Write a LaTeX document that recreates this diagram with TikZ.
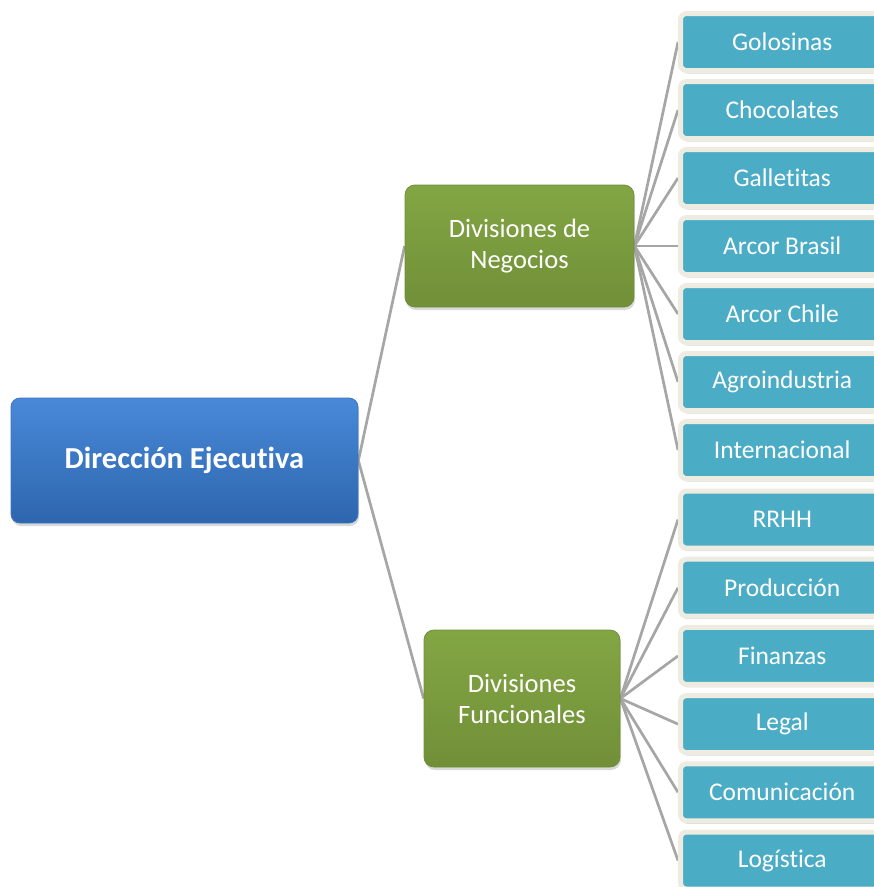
\documentclass[tikz,border=0pt]{standalone}
\usepackage{fontspec}
\setmainfont[Ligatures=NoCommon]{Carlito}
\usetikzlibrary{shadows}
\definecolor{leafteal}{HTML}{4BACC6}
\definecolor{leafedge}{HTML}{EEECE1}
\definecolor{linegray}{HTML}{A6A6A6}
\definecolor{bluetop}{HTML}{4889D8}
\definecolor{bluebot}{HTML}{2E66AE}
\definecolor{blueedge}{HTML}{3B75C2}
\definecolor{greentop}{HTML}{83A644}
\definecolor{greenbot}{HTML}{718F38}
\definecolor{greenedge}{HTML}{708F38}
\pgfdeclarelayer{bg}
\pgfsetlayers{bg,main}
\tikzset{
  rootbox/.style={rounded corners=9pt, top color=bluetop, bottom color=bluebot,
    draw=blueedge, line width=0.8pt, minimum width=347pt, minimum height=125pt,
    inner sep=0pt, text=white, font=\fontsize{30.5}{36}\selectfont\bfseries,
    drop shadow={shadow xshift=1pt, shadow yshift=-3pt, opacity=0.3}},
  midbox/.style={rounded corners=10pt, top color=greentop, bottom color=greenbot,
    draw=greenedge, line width=0.8pt, inner sep=0pt, text=white, align=center,
    font=\fontsize{26.5}{31}\selectfont,
    drop shadow={shadow xshift=1pt, shadow yshift=-3pt, opacity=0.3}},
  leafbox/.style={rounded corners=6pt, fill=leafteal, draw=leafedge, line width=5pt,
    minimum width=203.5pt, minimum height=57pt, inner sep=0pt, text=white,
    font=\fontsize{25.5}{30}\selectfont,
    drop shadow={shadow xshift=1pt, shadow yshift=-3pt, opacity=0.3}},
  conn/.style={draw=linegray, line width=2.7pt}
}
\begin{document}
\begin{tikzpicture}[x=1pt,y=-1pt]
\useasboundingbox (0,0) rectangle (874,887);
\node[rootbox] (root) at (184.5,460.5) {Dirección Ejecutiva};
\node[midbox, minimum width=229pt, minimum height=122pt] (neg) at (519.5,246) {Divisiones de\\Negocios};
\node[midbox, minimum width=196pt, minimum height=137pt] (fun) at (522,698.5) {Divisiones\\Funcionales};
% top leaves
\foreach \t [count=\i from 0] in {Golosinas,Chocolates,Galletitas,Arcor Brasil,Arcor Chile,Agroindustria,Internacional}{
  \node[leafbox] (t\i) at (782.25,{42+68*\i}) {\t};
}
% bottom leaves
\foreach \t [count=\i from 0] in {RRHH,Producción,Finanzas,Legal,Comunicación,Logística}{
  \node[leafbox] (b\i) at (782.25,{519.5+68.2*\i}) {\t};
}
\begin{pgfonlayer}{bg}
\draw[conn] (root.east) -- (neg.west);
\draw[conn] (root.east) -- (fun.west);
\foreach \i in {0,...,6}{ \draw[conn] (neg.east) -- (t\i.west); }
\foreach \i in {0,...,5}{ \draw[conn] (fun.east) -- (b\i.west); }
\end{pgfonlayer}
\end{tikzpicture}
\end{document}
